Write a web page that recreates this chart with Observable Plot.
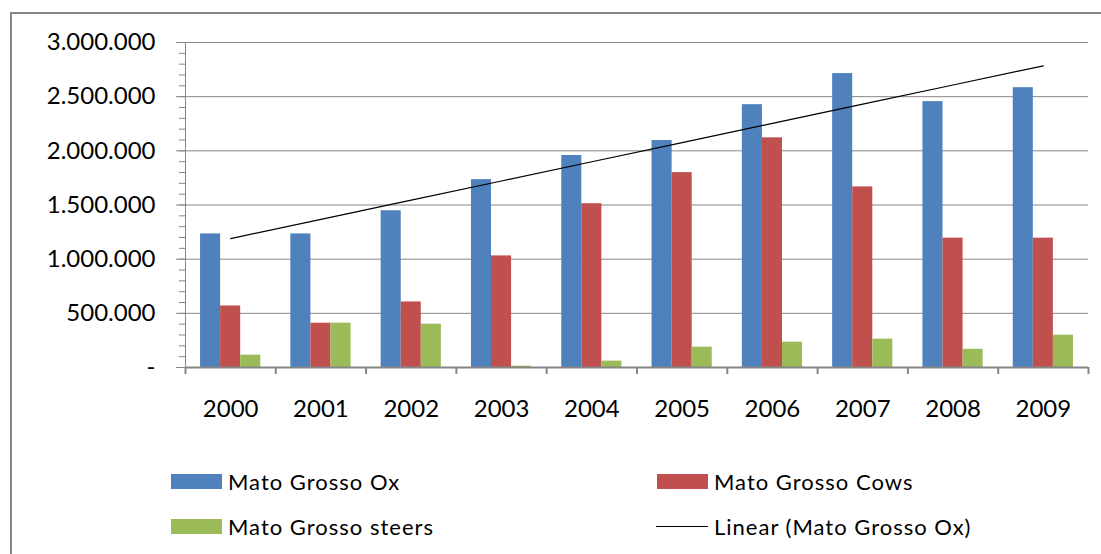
<!DOCTYPE html>
<html>
<head>
<meta charset="utf-8">
<script src="https://cdn.jsdelivr.net/npm/d3@7"></script>
<script src="https://cdn.jsdelivr.net/npm/@observablehq/plot@0.6"></script>
<style>
  body { margin: 0; background: #fff; font-family: Lato, "Open Sans", sans-serif; }
  #wrap { position: relative; width: 1101px; height: 554px; overflow: hidden; background: #fff; }
  #frame { position: absolute; left: 10px; top: 12px; width: 1200px; height: 700px;
           border-left: 2px solid #868686; border-top: 2px solid #868686; }
  #chart { position: absolute; left: 0; top: 0; }
  .item { position: absolute; display: flex; align-items: center; font-size: 22px; letter-spacing: 1px; color: #000; white-space: nowrap; }
  .sw { width: 51px; height: 15px; margin-right: 6px; }
  .ln { width: 52px; height: 0; border-top: 1px solid #000; margin-right: 6px; }
</style>
</head>
<body>
<div id="wrap">
  <div id="frame"></div>
  <div id="chart"></div>
  <div id="legend"></div>
</div>
<script>
// Cattle herd in Mato Grosso, 2000–2009
const years = ["2000", "2001", "2002", "2003", "2004", "2005", "2006", "2007", "2008", "2009"];
const oxValues = [1233000, 1233000, 1447000, 1734000, 1957000, 2095000, 2426000, 2713000, 2454000, 2583000];
const cowValues = [568000, 409000, 605000, 1030000, 1512000, 1799000, 2120000, 1667000, 1194000, 1194000];
const steerValues = [114000, 409000, 400000, 12000, 59000, 188000, 234000, 262000, 168000, 298000];

const seriesNames = ["Mato Grosso Ox", "Mato Grosso Cows", "Mato Grosso steers"];
const seriesColors = ["#4F81BD", "#C0504D", "#9BBB59"];
const trendName = "Linear (Mato Grosso Ox)";

const yTicks = [0, 500000, 1000000, 1500000, 2000000, 2500000, 3000000];
const yMinorStep = 100000;

// Thousands separated by dots; zero shown as a dash
const fmt = d3.formatLocale({decimal: ",", thousands: ".", grouping: [3], currency: ["", ""]}).format(",");
const yLabel = (d) => (d === 0 ? "-" : fmt(d));

// Least-squares trend of the Ox series against year index
const n = oxValues.length;
const meanX = (n - 1) / 2;
const meanY = d3.mean(oxValues);
const slope = d3.sum(oxValues, (v, i) => (i - meanX) * (v - meanY)) / d3.sum(oxValues, (v, i) => (i - meanX) ** 2);
const intercept = meanY - slope * meanX;
const trend = years.map((year, i) => ({year, value: intercept + slope * i}));

const W = 1101, H = 440, ML = 185, MR = 13, MT = 42, MB = 73;
const bw = (W - ML - MR) / years.length;
const barW = bw / 4.5; // three bars plus a 150% gap per category
const grey = "#868686";

const series = [oxValues, cowValues, steerValues];
const barMarks = series.map((vals, k) =>
  Plot.barY(years.map((year, i) => ({year, value: vals[i]})), {
    x: "year",
    y: "value",
    fill: seriesColors[k],
    insetLeft: 0.75 * barW + k * barW,
    insetRight: bw - 0.75 * barW - (k + 1) * barW
  })
);

const chart = Plot.plot({
  width: W,
  height: H,
  marginLeft: ML,
  marginRight: MR,
  marginTop: MT,
  marginBottom: MB,
  style: {fontFamily: "Lato, sans-serif", fontSize: "24px", color: "#000", background: "transparent"},
  x: {type: "band", domain: years, padding: 0, round: false, axis: null},
  y: {domain: [0, 3000000], axis: null},
  marks: [
    Plot.gridY(yTicks.filter((d) => d > 0), {stroke: grey, strokeOpacity: 1, strokeWidth: 1}),
    ...barMarks,
    Plot.ruleY([0], {stroke: grey, strokeWidth: 2}),
    Plot.ruleX([years[0]], {dx: -bw / 2, y1: 0, y2: 3000000, stroke: grey, strokeWidth: 1}),
    // category boundary ticks below the baseline
    Plot.ruleX(years, {dx: -bw / 2, y1: 0, y2: 0, insetBottom: -7, stroke: grey, strokeWidth: 2}),
    Plot.ruleX([years[years.length - 1]], {dx: bw / 2, y1: 0, y2: 0, insetBottom: -7, stroke: grey, strokeWidth: 2}),
    Plot.axisY(d3.range(0, 3000001, yMinorStep), {tickSize: 6, tickFormat: () => "", stroke: grey, label: null}),
    Plot.axisY(yTicks, {tickSize: 9, tickPadding: 21, tickFormat: yLabel, stroke: grey, fill: "#000", fontSize: 24, letterSpacing: "0.5px", label: null}),
    Plot.axisX(years, {tickSize: 0, tickPadding: 32, fontSize: 24, fill: "#000", label: null}),
    Plot.line(trend, {x: "year", y: "value", stroke: "#000", strokeWidth: 1.2})
  ]
});
document.getElementById("chart").appendChild(chart);

// Legend in two columns below the chart
const legend = document.getElementById("legend");
const items = [
  {label: seriesNames[0], color: seriesColors[0], left: 171, top: 481},
  {label: seriesNames[1], color: seriesColors[1], left: 657, top: 481},
  {label: seriesNames[2], color: seriesColors[2], left: 171, top: 526},
  {label: trendName, line: true, left: 656, top: 526}
];
for (const it of items) {
  const el = document.createElement("div");
  el.className = "item";
  el.style.left = it.left + "px";
  el.style.top = (it.top - 14) + "px";
  el.style.height = "28px";
  const key = document.createElement("div");
  if (it.line) key.className = "ln";
  else { key.className = "sw"; key.style.background = it.color; }
  el.appendChild(key);
  const t = document.createElement("span");
  t.textContent = it.label;
  el.appendChild(t);
  legend.appendChild(el);
}
</script>
</body>
</html>
